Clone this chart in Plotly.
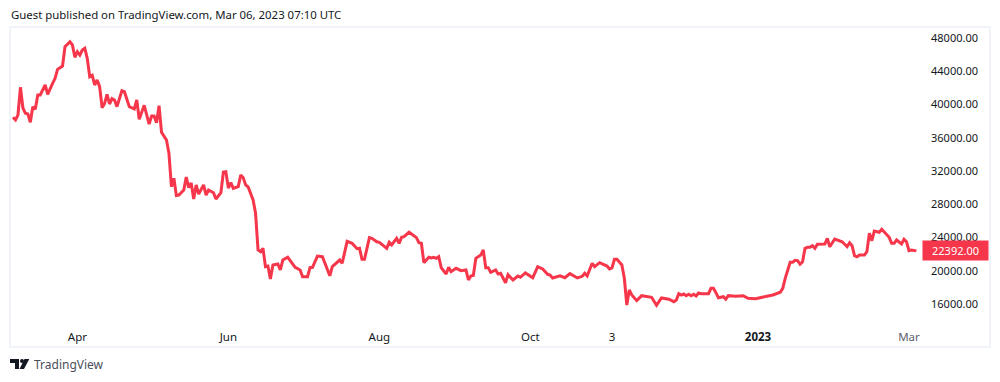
import pandas as pd
import plotly.graph_objects as go

# ---- data ----
start_date = "2022-03-06"
day_index = [
    0, 1, 2, 3, 4, 5, 6, 7, 8, 9,
    10, 11, 13, 14, 16, 17, 18, 20, 21, 23,
    24, 25, 26, 27, 28, 29, 30, 31, 32, 33,
    34, 35, 36, 37, 38, 39, 40, 41, 42, 44,
    45, 47, 49, 50, 51, 53, 55, 56, 57, 58,
    59, 60, 62, 63, 64, 65, 66, 67, 69, 70,
    71, 72, 73, 74, 75, 77, 78, 79, 81, 82,
    84, 85, 86, 87, 88, 89, 91, 92, 93, 94,
    95, 97, 98, 99, 100, 101, 102, 103, 104, 105,
    107, 108, 109, 111, 114, 116, 117, 119, 120, 121,
    123, 125, 128, 129, 132, 133, 135, 137, 139, 140,
    141, 142, 144, 145, 147, 148, 151, 152, 153, 155,
    156, 157, 158, 160, 161, 163, 164, 165, 166, 168,
    169, 170, 171, 172, 173, 175, 176, 177, 179, 181,
    183, 184, 185, 186, 187, 189, 190, 191, 192, 193,
    195, 196, 197, 199, 200, 202, 204, 205, 207, 210,
    212, 214, 216, 217, 218, 221, 223, 225, 228, 230,
    231, 232, 234, 235, 237, 239, 240, 241, 242, 243,
    244, 246, 247, 248, 249, 250, 252, 254, 258, 260,
    262, 265, 267, 268, 269, 270, 271, 272, 273, 274,
    275, 276, 277, 278, 281, 282, 283, 284, 285, 287,
    288, 289, 292, 295, 297, 300, 303, 305, 307, 310,
    311, 312, 314, 315, 316, 317, 318, 319, 320, 321,
    322, 323, 324, 325, 328, 329, 330, 332, 335, 337,
    338, 339, 340, 341, 342, 344, 345, 346, 347, 348,
    350, 351, 354, 355, 356, 357, 359, 360, 361, 362,
    363, 365,
]
close = [
    38460, 38140, 38740, 42070, 39580, 38940, 38860, 37860, 39740, 39420,
    41140, 41140, 42350, 41230, 42550, 43150, 44230, 44630, 46950, 47550,
    47160, 45680, 46350, 45950, 46560, 46760, 45560, 43340, 43510, 42350,
    42950, 42140, 39610, 40140, 41230, 40060, 40700, 40540, 39740, 41660,
    41540, 39740, 39460, 40540, 38220, 39900, 37650, 38620, 38620, 37810,
    39860, 36660, 35730, 34130, 30110, 31120, 29050, 29110, 29710, 31280,
    30010, 30560, 28630, 30320, 29230, 30320, 29110, 29710, 29390, 28630,
    29390, 31880, 31920, 29950, 30590, 29920, 30110, 31520, 31190, 30320,
    30080, 28510, 26910, 22500, 22290, 22700, 20490, 20570, 19010, 20690,
    20810, 20090, 21290, 21620, 20410, 20090, 19280, 19280, 20370, 20410,
    21770, 21690, 19400, 20490, 21290, 20900, 23540, 23300, 22650, 22700,
    21380, 21380, 23980, 23900, 23490, 23420, 22700, 23420, 23100, 23900,
    23300, 24020, 24100, 24630, 24420, 23980, 23370, 23300, 20970, 21620,
    21530, 21620, 21500, 21690, 20370, 19610, 20410, 19890, 20290, 20010,
    20090, 18890, 19370, 19450, 21500, 21890, 22500, 20370, 20370, 19810,
    20090, 19610, 19690, 18560, 19520, 18890, 19370, 19210, 19730, 19160,
    20490, 20210, 19570, 19490, 19130, 19400, 19160, 19650, 19130, 19330,
    19690, 19400, 20900, 20490, 20970, 20690, 20570, 20210, 20330, 21380,
    21380, 20690, 19090, 15880, 17680, 17080, 16400, 17000, 16810, 15840,
    16720, 16570, 16280, 16480, 17240, 17080, 17200, 17000, 17170, 17000,
    17170, 16960, 17320, 17240, 17240, 17890, 17890, 17360, 16760, 16880,
    16570, 17000, 16930, 17000, 16690, 16640, 16840, 17000, 17080, 17410,
    17890, 19090, 21020, 21020, 21260, 21210, 20780, 21090, 22700, 22820,
    22820, 23010, 22700, 23180, 23220, 23900, 22890, 23820, 23490, 22890,
    23370, 23010, 21810, 21690, 21890, 21890, 22290, 24510, 23620, 24780,
    24630, 24990, 24020, 23300, 23300, 23700, 23220, 23780, 23490, 22410,
    22500, 22392,
]
last_price = 22392
price_ticks = [16000, 20000, 24000, 28000, 32000, 36000, 40000, 44000, 48000]
time_tick_dates = ["2022-04-01", "2022-06-01", "2022-08-01", "2022-10-01", "2022-11-03", "2023-01-01", "2023-03-03"]
time_tick_labels = ["Apr", "Jun", "Aug", "Oct", "3", "<b>2023</b>", '<span style="color:#5d606b">Mar</span>']
header_text = "Guest published on TradingView.com, Mar 06, 2023 07:10 UTC"
footer_text = "TradingView"

# ---- style ----
W, H = 1000, 382
ML, MR, MT, MB = 11, 11, 28, 36
LINE = "#F6364A"
FRAME = "#F0F3FA"
TEXT = "#131722"
FONT = "Noto Sans"


def px(x):
    return (x - ML) / (W - ML - MR)


def py(y):
    return 1 - (y - MT) / (H - MT - MB)


dates = pd.to_datetime(start_date) + pd.to_timedelta(day_index, unit="D")

fig = go.Figure(go.Scatter(x=dates, y=close, mode="lines",
                           line=dict(color=LINE, width=3, shape="linear"),
                           hoverinfo="skip"))

logo = ("M {} {} L {} {} L {} {} L {} {} L {} {} L {} {} Z").format(
    px(10), py(359), px(19), py(359), px(19), py(369),
    px(15), py(369), px(15), py(363), px(10), py(363))
slant = ("M {} {} L {} {} L {} {} L {} {} Z").format(
    px(24.5), py(359), px(29.3), py(359), px(24), py(369), px(19.5), py(369))

fig.update_layout(
    width=W, height=H, autosize=False,
    margin=dict(l=ML, r=MR, t=MT, b=MB, pad=0),
    paper_bgcolor="white", plot_bgcolor="white",
    showlegend=False,
    font=dict(family=FONT, size=12, color=TEXT),
    xaxis=dict(
        range=["2022-03-05 04:30", "2023-04-04 08:00"],
        tickmode="array", tickvals=time_tick_dates, ticktext=time_tick_labels,
        ticklabelposition="inside", ticks="", showgrid=False, zeroline=False,
        showline=False, tickangle=0, tickfont=dict(family=FONT, size=11.5, color=TEXT),
    ),
    yaxis=dict(
        range=[10947, 49203], side="right",
        tickmode="array", tickvals=price_ticks,
        ticktext=[f"{v:.2f}" for v in price_ticks],
        ticklabelposition="inside", ticklabelstandoff=8, ticks="",
        showgrid=False, zeroline=False, showline=False,
        tickfont=dict(family=FONT, size=11, color=TEXT),
    ),
    shapes=[
        dict(type="rect", xref="paper", yref="paper", x0=px(10), x1=px(990), y0=py(27), y1=py(347),
             line=dict(color=FRAME, width=2), layer="below"),
        dict(type="path", xref="paper", yref="paper", path=logo, fillcolor="#131722", line=dict(width=0)),
        dict(type="path", xref="paper", yref="paper", path=slant, fillcolor="#131722", line=dict(width=0)),
        dict(type="circle", xref="paper", yref="paper", x0=px(20), x1=px(24), y0=py(363), y1=py(359),
             fillcolor="#131722", line=dict(width=0)),
    ],
    annotations=[
        dict(text=header_text, xref="paper", yref="paper", x=px(9), y=py(14), xanchor="left", yanchor="middle",
             showarrow=False, font=dict(family=FONT, size=11.4, color=TEXT)),
        dict(text=footer_text, xref="paper", yref="paper", x=px(32), y=py(364.5), xanchor="left", yanchor="middle",
             showarrow=False, font=dict(family=FONT, size=12, color="#4A4E59")),
        dict(text=f"{last_price:.2f}", xref="paper", yref="y", x=px(989), y=last_price, xanchor="right", yanchor="middle",
             width=65, height=19, align="center", bgcolor=LINE, borderpad=0, showarrow=False,
             font=dict(family=FONT, size=11, color="white")),
    ],
)
fig.add_shape(type="line", xref="paper", yref="y", x0=px(925), x1=px(928), y0=last_price, y1=last_price,
              line=dict(color="white", width=1), layer="above")

fig.write_html("out.html", config={"displayModeBar": False},
               post_script="document.body.style.margin='0';document.body.style.overflow='hidden';")
